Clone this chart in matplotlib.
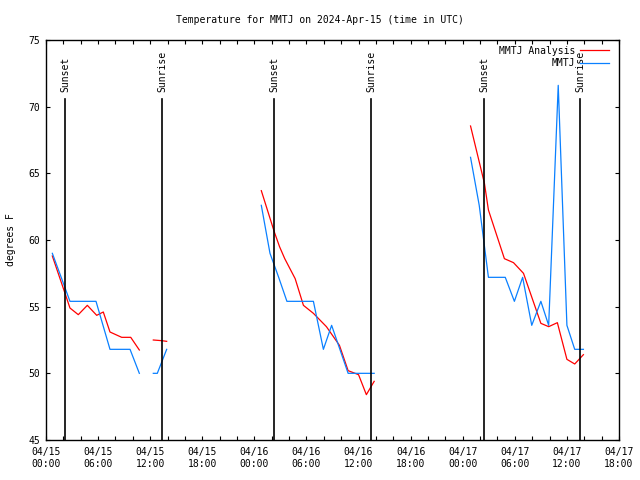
import matplotlib
matplotlib.use("Agg")
import matplotlib.pyplot as plt
from matplotlib.lines import Line2D

nan = float("nan")

# hours since 2024-04-15 00:00 UTC, gaps marked with nan
analysis_hours = [0.73, 2.19, 2.76, 3.72, 4.76, 5.84, 6.6, 7.37, 8.72, 9.76, 10.75, nan,
                  12.36, 13.33, 13.9, nan,
                  24.8, 26.3, 26.9, 27.5, 28.7, 29.65, 30.8, 32.3, 33.8, 34.8, 36.0, 36.9, 37.8, nan,
                  48.9, 50.5, 50.96, 52.8, 53.85, 55.0, 57.0, 57.9, 58.9, 60.0, 60.9, 61.9]
analysis_temp = [58.8, 56.0, 54.9, 54.4, 55.1, 54.35, 54.6, 53.1, 52.7, 52.7, 51.75, nan,
                 52.5, 52.45, 52.4, nan,
                 63.7, 60.6, 59.5, 58.6, 57.1, 55.1, 54.5, 53.5, 52.1, 50.2, 49.9, 48.4, 49.4, nan,
                 68.55, 64.25, 62.25, 58.6, 58.3, 57.5, 53.75, 53.5, 53.8, 51.05, 50.7, 51.4]

obs_hours = [0.73, 1.75, 2.76, 5.76, 7.37, 9.68, 10.75, nan,
             12.36, 12.82, 13.9, nan,
             24.8, 25.8, 26.8, 27.75, 30.8, 31.95, 32.9, 33.85, 34.8, 37.8, nan,
             48.9, 49.9, 50.96, 51.9, 52.9, 53.95, 54.9, 55.95, 57.0, 57.9, 59.0, 60.0, 60.9, 61.9]
obs_temp = [59.0, 57.2, 55.4, 55.4, 51.8, 51.8, 50.0, nan,
            50.0, 50.0, 51.8, nan,
            62.6, 59.0, 57.2, 55.4, 55.4, 51.8, 53.6, 51.8, 50.0, 50.0, nan,
            66.2, 62.6, 57.2, 57.2, 57.2, 55.4, 57.2, 53.6, 55.4, 53.6, 71.6, 53.6, 51.8, 51.8]

sun_hours = [2.22, 13.40, 26.30, 37.48, 50.50, 61.56]
sun_labels = ["Sunset", "Sunrise", "Sunset", "Sunrise", "Sunset", "Sunrise"]

tick_hours = list(range(0, 67, 6))
tick_labels = ["04/15\n00:00", "04/15\n06:00", "04/15\n12:00", "04/15\n18:00",
               "04/16\n00:00", "04/16\n06:00", "04/16\n12:00", "04/16\n18:00",
               "04/17\n00:00", "04/17\n06:00", "04/17\n12:00", "04/17\n18:00"]

plt.rcParams["font.family"] = ["DejaVu Sans Mono"]
plt.rcParams["font.size"] = 7

fig = plt.figure(figsize=(6.4, 4.8), dpi=100)
ax = fig.add_axes([46 / 640, 40 / 480, 573 / 640, 400 / 480])

red = "#ff0000"
blue = "#0a80ff"

ax.plot(analysis_hours, analysis_temp, color=red, lw=0.9)
ax.plot(obs_hours, obs_temp, color=blue, lw=0.9)

for h, lab in zip(sun_hours, sun_labels):
    ax.plot([h, h], [45, 70.6], color="black", lw=1.2)
    ax.text(h, 71.1, lab, rotation=90, ha="center", va="bottom", fontsize=7)

ax.set_xlim(0, 66)
ax.set_ylim(45, 75)
ax.set_xticks(tick_hours)
ax.set_xticklabels(tick_labels)
ax.set_xticks(range(0, 67, 2), minor=True)
ax.set_yticks(range(45, 76, 5))
ax.tick_params(which="both", direction="in", top=True, right=True, length=3, width=0.8)
ax.tick_params(axis="x", pad=5)
ax.tick_params(axis="y", pad=4)
for s in ax.spines.values():
    s.set_linewidth(1.0)

ax.set_ylabel("degrees F", labelpad=9)

fig.text(0.5, 1 - 20 / 480, "Temperature for MMTJ on 2024-Apr-15 (time in UTC)",
         ha="center", va="center", fontsize=7)

handles = [Line2D([], [], color=red, lw=0.9), Line2D([], [], color=blue, lw=0.9)]
ax.legend(handles, ["MMTJ Analysis", "MMTJ"], loc="upper right", frameon=False,
          bbox_to_anchor=(0.993, 1.0), markerfirst=False, handlelength=3.0,
          handletextpad=0.5, borderaxespad=0.2, labelspacing=0.25, fontsize=7)

fig.savefig("out.png", dpi=100)
